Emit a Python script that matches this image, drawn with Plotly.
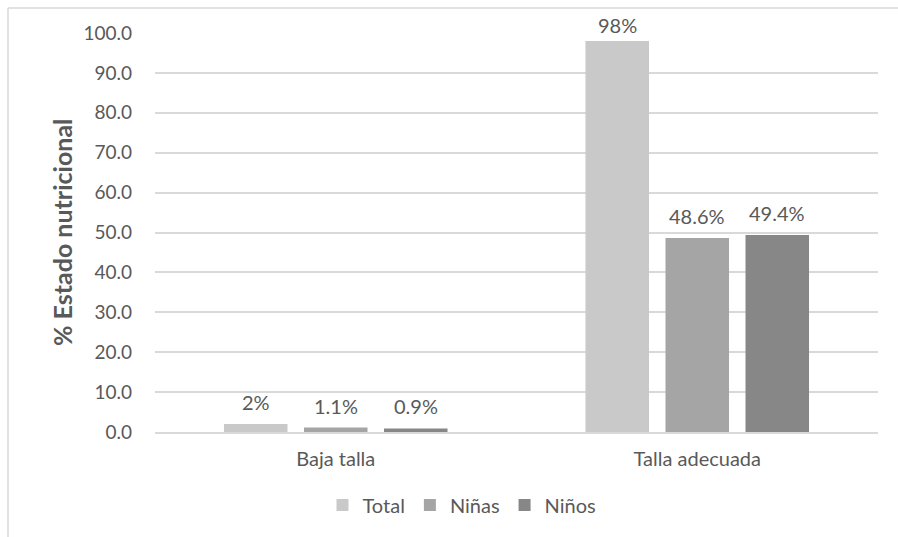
import plotly.graph_objects as go

categories = ["Baja talla", "Talla adecuada"]
total = [2, 98]
ninas = [1.1, 48.6]
ninos = [0.9, 49.4]
series_names = ["Total", "Niñas", "Niños"]
y_ticks = [0, 10, 20, 30, 40, 50, 60, 70, 80, 90, 100]

W, H = 898, 537
L, R, T, B = 155, 20, 33, 105
pw, ph = W - L - R, H - T - B

colors = ["#c9c9c9", "#a5a5a5", "#878787"]
txt = "#595959"
font = "Lato, 'Open Sans', sans-serif"
FS = 20

fig = go.Figure()
annotations = []
offsets = [-80, 0, 80]
for name, vals, c, off in zip(series_names, [total, ninas, ninos], colors, offsets):
    fig.add_trace(go.Bar(
        x=categories, y=vals, name=name, marker=dict(color=c, line=dict(width=0)),
    ))
    for cat, v in zip(categories, vals):
        annotations.append(dict(
            x=cat, y=v, xref="x", yref="y", text=f"{v:g}%", showarrow=False,
            xshift=off, yshift=min(22, (100 - v) * ph / 100 + 8),
            xanchor="center", yanchor="middle",
            font=dict(size=FS, color=txt, family=font),
        ))

def px_x(x):
    return (x - L) / pw

def px_y(y):
    return (H - B - y) / ph

annotations.append(dict(text="<b>% Estado nutricional</b>", textangle=-90, xref="paper", yref="paper",
                        x=px_x(62), y=px_y(233), xanchor="center", yanchor="middle", showarrow=False,
                        font=dict(size=25, color=txt, family=font)))

fig.update_layout(
    width=W, height=H,
    margin=dict(l=L, r=R, t=T, b=B),
    paper_bgcolor="white", plot_bgcolor="white",
    font=dict(family=font, color=txt, size=FS),
    barmode="group", bargap=0.336, bargroupgap=0.206,
    showlegend=True,
    legend=dict(orientation="h", x=px_x(462), xanchor="center", y=px_y(505), yanchor="middle",
                font=dict(size=FS, color=txt), traceorder="normal", itemwidth=30),
    xaxis=dict(showgrid=False, showline=True, linecolor="#d9d9d9", linewidth=1.5,
               ticks="", tickfont=dict(size=FS, color=txt), ticklabelstandoff=8),
    yaxis=dict(range=[0, 100], tickvals=y_ticks, tickformat=".1f", showgrid=True,
               gridcolor="#d9d9d9", gridwidth=1.5, zeroline=False, showline=False,
               tickfont=dict(size=19, color=txt), ticklabelstandoff=22),
    annotations=annotations,
    shapes=[
        dict(type="line", xref="paper", yref="paper", x0=px_x(8), x1=px_x(8), y0=px_y(8), y1=px_y(540),
             line=dict(color="#d9d9d9", width=1.5)),
        dict(type="line", xref="paper", yref="paper", x0=px_x(8), x1=px_x(900), y0=px_y(8), y1=px_y(8),
             line=dict(color="#d9d9d9", width=1.5)),
    ],
)

fig.write_html("out.html")
